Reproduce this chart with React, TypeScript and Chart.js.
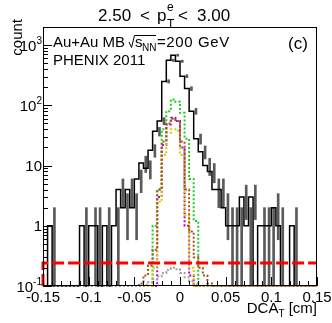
import React, { useEffect, useRef } from "react";
import { Chart, registerables } from "chart.js";
Chart.register(...registerables);

// ---- data ----
const binEdges = [
  -0.15, -0.145, -0.14, -0.135, -0.13, -0.125, -0.12, -0.115, -0.11, -0.105,
  -0.1, -0.095, -0.09, -0.085, -0.08, -0.075, -0.07, -0.065, -0.06, -0.055,
  -0.05, -0.045, -0.04, -0.035, -0.03, -0.025, -0.02, -0.015, -0.01, -0.005,
  0, 0.005, 0.01, 0.015, 0.02, 0.025, 0.03, 0.035, 0.04, 0.045,
  0.05, 0.055, 0.06, 0.065, 0.07, 0.075, 0.08, 0.085, 0.09, 0.095,
  0.1, 0.105, 0.11, 0.115, 0.12, 0.125, 0.13, 0.135, 0.14, 0.145, 0.15,
];

const dataCounts = [
  0, 0, 1, 0, 0, 0, 0, 0, 0, 1,
  0, 1, 1, 0, 1, 0, 1, 4, 2, 4,
  2, 6, 11, 9, 18, 37, 55, 250, 560, 680,
  540, 305, 190, 80, 28, 17, 10, 8, 4, 4,
  2, 1, 1, 1, 3, 1, 3, 0, 1, 1,
  1, 2, 1, 0, 0, 1, 0, 0, 0, 0,
];

const greenSeries = [
  0, 0, 0, 0, 0, 0, 0, 0, 0, 0,
  0, 0, 0, 0, 0, 0, 0, 0, 0, 0,
  0, 0, 0, 0, 0, 1, 4, 40, 80, 125,
  115, 75, 28, 6, 1.2, 0, 0, 0, 0, 0,
  0, 0, 0, 0, 0, 0, 0, 0, 0, 0,
  0, 0, 0, 0, 0, 0, 0, 0, 0, 0,
];

const magentaSeries = [
  0, 0, 0, 0, 0, 0, 0, 0, 0, 0,
  0, 0, 0, 0, 0, 0, 0, 0, 0, 0,
  0, 0, 0, 0, 0, 0, 3, 22, 48, 62,
  55, 20, 1, 0.15, 0, 0, 0, 0, 0, 0,
  0, 0, 0, 0, 0, 0, 0, 0, 0, 0,
  0, 0, 0, 0, 0, 0, 0, 0, 0, 0,
];

const yellowSeries = [
  0, 0, 0, 0, 0, 0, 0, 0, 0, 0,
  0, 0, 0, 0, 0, 0, 0, 0, 0, 0,
  0, 0, 0, 0, 0, 0.2, 2.5, 15, 35, 40,
  38, 15, 1.5, 0.2, 0, 0, 0, 0, 0, 0,
  0, 0, 0, 0, 0, 0, 0, 0, 0, 0,
  0, 0, 0, 0, 0, 0, 0, 0, 0, 0,
];

const brownSeries = [
  0, 0, 0, 0, 0, 0, 0, 0, 0, 0,
  0, 0, 0, 0, 0, 0, 0, 0, 0, 0,
  0, 0, 0.11, 0.15, 0.22, 0.4, 4, 25, 50, 60,
  55, 25, 4, 0.8, 0.3, 0.2, 0.15, 0.11, 0, 0,
  0, 0, 0, 0, 0, 0, 0, 0, 0, 0,
  0, 0, 0, 0, 0, 0, 0, 0, 0, 0,
];

const graySeries = [
  0, 0, 0, 0, 0, 0, 0, 0, 0, 0,
  0, 0, 0, 0, 0, 0, 0, 0, 0, 0,
  0, 0, 0, 0.105, 0.115, 0.13, 0.145, 0.165, 0.185, 0.2,
  0.19, 0.165, 0.14, 0.12, 0.105, 0, 0, 0, 0, 0,
  0, 0, 0, 0, 0, 0, 0, 0, 0, 0,
  0, 0, 0, 0, 0, 0, 0, 0, 0, 0,
];

const flatLevel = 0.24;

const xTicks = [-0.15, -0.1, -0.05, 0, 0.05, 0.1, 0.15];
const xTickLabels = ["-0.15", "-0.1", "-0.05", "0", "0.05", "0.1", "0.15"];
const yTicks = [0.1, 1, 10, 100, 1000];
const yTickLabels: [string, string][] = [
  ["10", "-1"],
  ["1", ""],
  ["10", ""],
  ["10", "2"],
  ["10", "3"],
];

const X_MIN = -0.15;
const X_MAX = 0.15;
const Y_MIN = 0.1;
const Y_MAX = 2000;

const FONT = "'Liberation Sans', Arial, Helvetica, sans-serif";

function stepPoints(values: number[]) {
  const pts = values.map((v, i) => ({ x: binEdges[i], y: Math.max(v, Y_MIN) }));
  pts.push({ x: binEdges[values.length], y: Math.max(values[values.length - 1], Y_MIN) });
  return pts;
}

const decorPlugin = {
  id: "decor",
  afterDraw(chart: any) {
    const { ctx, chartArea: a, scales } = chart;
    const x = scales.x;
    const y = scales.y;
    ctx.save();
    ctx.strokeStyle = "#000";
    ctx.lineWidth = 1;
    ctx.strokeRect(a.left + 0.5, a.top + 0.5, a.right - a.left - 1, a.bottom - a.top - 1);

    // y ticks (inward)
    ctx.beginPath();
    for (const d of yTicks) {
      for (let k = 1; k <= 9; k++) {
        const v = k * d;
        if (v > Y_MAX) break;
        const py = Math.round(y.getPixelForValue(v)) + 0.5;
        const len = k === 1 ? 9 : 5;
        ctx.moveTo(a.left, py);
        ctx.lineTo(a.left + len, py);
      }
    }
    // x ticks (inward)
    for (let k = -15; k <= 15; k++) {
      const v = k / 100;
      const px = Math.round(x.getPixelForValue(v)) + 0.5;
      const len = k % 5 === 0 ? 9 : 5;
      ctx.moveTo(px, a.bottom);
      ctx.lineTo(px, a.bottom - len);
    }
    ctx.stroke();

    ctx.fillStyle = "#000";
    // x tick labels
    ctx.font = `15px ${FONT}`;
    ctx.textAlign = "center";
    ctx.textBaseline = "alphabetic";
    xTicks.forEach((t, i) => {
      ctx.fillText(xTickLabels[i], x.getPixelForValue(t), a.bottom + 16);
    });

    // y tick labels
    ctx.textAlign = "left";
    yTicks.forEach((t, i) => {
      const [base, sup] = yTickLabels[i];
      const py = y.getPixelForValue(t);
      ctx.font = `15px ${FONT}`;
      const wb = ctx.measureText(base).width;
      ctx.font = `10px ${FONT}`;
      const ws = sup ? ctx.measureText(sup).width : 0;
      const right = a.left - 1;
      const x0 = right - wb - ws;
      ctx.font = `15px ${FONT}`;
      ctx.fillText(base, x0, py + 5.5);
      if (sup) {
        ctx.font = `10px ${FONT}`;
        ctx.fillText(sup, x0 + wb, py - 1);
      }
    });

    // title
    ctx.font = `17px ${FONT}`;
    ctx.fillText("2.50", 98, 21);
    ctx.fillText("<", 140, 21);
    ctx.fillText("p", 157, 21);
    ctx.fillText("<", 178, 21);
    ctx.fillText("3.00", 197, 21);
    ctx.font = `12px ${FONT}`;
    ctx.fillText("e", 167, 11);
    ctx.fillText("T", 167, 28);

    // legend text
    ctx.font = `15px ${FONT}`;
    ctx.fillText("Au+Au MB", 53, 47);
    ctx.beginPath();
    ctx.lineWidth = 1;
    ctx.moveTo(129, 42);
    ctx.lineTo(131.5, 47.5);
    ctx.lineTo(134.5, 35.5);
    ctx.lineTo(156, 35.5);
    ctx.stroke();
    ctx.fillText("s", 135, 47);
    ctx.font = `10px ${FONT}`;
    ctx.fillText("NN", 142, 51);
    ctx.font = `15px ${FONT}`;
    (ctx as any).letterSpacing = "0.6px";
    ctx.fillText("=200 GeV", 157, 47);
    (ctx as any).letterSpacing = "0px";
    ctx.fillText("PHENIX 2011", 53, 65);

    ctx.font = `17px ${FONT}`;
    ctx.fillText("(c)", 288, 49);

    // x axis title, right-aligned to plot edge
    ctx.font = `15px ${FONT}`;
    const wTail = ctx.measureText(" [cm]").width;
    ctx.font = `10px ${FONT}`;
    const wT = ctx.measureText("T").width;
    ctx.font = `15px ${FONT}`;
    const wD = ctx.measureText("DCA").width;
    const xs = a.right - wTail - wT - wD;
    ctx.fillText("DCA", xs, 313);
    ctx.font = `10px ${FONT}`;
    ctx.fillText("T", xs + wD, 317);
    ctx.font = `15px ${FONT}`;
    ctx.fillText(" [cm]", xs + wD + wT, 313);

    // y axis title
    ctx.save();
    ctx.translate(22, 19);
    ctx.rotate(-Math.PI / 2);
    ctx.textAlign = "right";
    ctx.font = `15px ${FONT}`;
    ctx.fillText("count", 0, 0);
    ctx.restore();

    ctx.restore();
  },
};

export default function App() {
  const ref = useRef<HTMLCanvasElement>(null);
  useEffect(() => {
    const canvas = ref.current;
    if (!canvas) return;

    const errData = dataCounts
      .map((v, i) =>
        v > 0
          ? {
              x: (binEdges[i] + binEdges[i + 1]) / 2,
              y: [Math.max(v - Math.sqrt(v), Y_MIN), v + Math.sqrt(v)],
            }
          : null
      )
      .filter((d) => d !== null);

    const dotted = (values: number[], color: string, order: number) => ({
      type: "line" as const,
      data: stepPoints(values),
      borderColor: color,
      borderWidth: 2,
      borderDash: [2, 2],
      stepped: "after" as const,
      pointRadius: 0,
      fill: false,
      clip: false as any,
      order,
    });

    const chart = new Chart(canvas, {
      type: "line",
      data: {
        datasets: [
          {
            type: "line",
            data: [
              { x: X_MIN, y: Y_MIN },
              { x: X_MIN, y: flatLevel },
              { x: X_MAX, y: flatLevel },
            ],
            borderColor: "#ff0000",
            borderWidth: 3,
            borderDash: [12, 4],
            pointRadius: 0,
            fill: false,
            clip: false as any,
            order: 0,
          },
          dotted(graySeries, "#a0a0a0", 1),
          dotted(brownSeries, "#9a5a1e", 2),
          dotted(yellowSeries, "#d0d000", 3),
          dotted(magentaSeries, "#c000c0", 4),
          dotted(greenSeries, "#22cc22", 5),
          {
            type: "line",
            data: stepPoints(dataCounts),
            borderColor: "#000",
            borderWidth: 1.5,
            stepped: "after",
            pointRadius: 0,
            fill: false,
            clip: false as any,
            order: 10,
          },
          {
            type: "bar",
            data: errData as any,
            backgroundColor: "#5a5a5a",
            borderWidth: 0,
            barThickness: 2,
            order: 11,
          } as any,
        ],
      },
      options: {
        animation: false,
        responsive: false,
        events: [],
        layout: { padding: { left: 43, right: 15, top: 27, bottom: 37 } },
        plugins: { legend: { display: false }, tooltip: { enabled: false }, title: { display: false } },
        scales: {
          x: { type: "linear", min: X_MIN, max: X_MAX, display: false, offset: false },
          y: { type: "logarithmic", min: Y_MIN, max: Y_MAX, display: false },
        },
      },
      plugins: [decorPlugin],
    });
    return () => chart.destroy();
  }, []);

  return (
    <div style={{ position: "absolute", left: 0, top: 0, width: 332, height: 323, background: "#fff" }}>
      <canvas ref={ref} width={332} height={323} style={{ display: "block", width: 332, height: 323 }} />
    </div>
  );
}
